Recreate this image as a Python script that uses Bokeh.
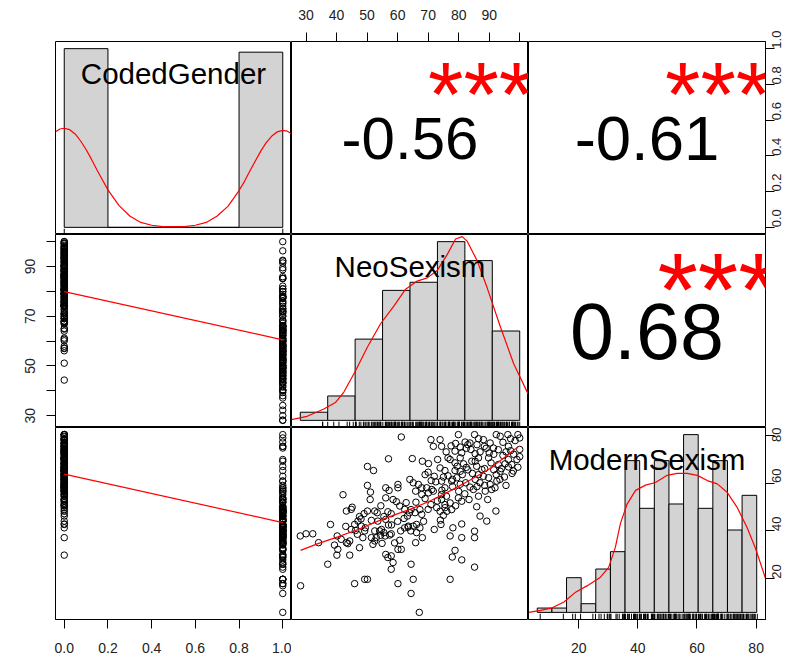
import numpy as np
from bokeh.plotting import figure
from bokeh.models import Range1d, LinearAxis, FixedTicker, NumeralTickFormatter
from bokeh.layouts import gridplot
from bokeh.embed import file_html
from bokeh.resources import INLINE
from bokeh.core.properties import value

FONT = "Liberation Sans"
RED = "#FF0000"

# ---------------- data ----------------
var_names = ["CodedGender", "NeoSexism", "ModernSexism"]

# respondents with CodedGender = 0 : NeoSexism, ModernSexism
g0_neo = [44.3, 51.1, 56.1, 57.2, 57.9, 60.1, 60.7, 61.2, 57.0, 85.2, 70.9, 73.9, 74.4, 83.0, 83.7,
          88.1, 88.4, 90.3, 92.3, 93.6, 96.1, 99.4, 98.5, 93.0, 75.9, 78.8, 81.0, 85.4, 86.5, 85.4,
          64.8, 70.1, 77.2, 78.8, 80.5, 81.6, 84.3, 85.9, 87.6, 89.8, 90.6, 93.0, 95.2, 96.3, 97.4,
          99.1, 99.4, 73.9, 75.5, 78.8, 80.5, 74.4, 74.4, 79.4, 81.2, 82.3, 83.7, 84.8, 85.4, 87.0,
          88.1, 89.8, 90.3, 91.9, 90.8, 92.3, 93.6, 64.0, 65.1, 66.8, 67.9, 69.5, 67.9, 71.7, 74.4,
          75.5, 77.2, 81.0, 83.4, 67.3, 70.9, 73.9, 75.5, 67.3, 68.1, 74.2, 81.0, 87.0, 89.2, 75.0,
          74.5, 76.0, 82.5, 86.0, 90.0, 94.5, 97.0, 100.0, 79.0, 76.5, 83.0, 86.5, 95.0, 97.5, 69.0,
          71.0, 78.0, 80.0, 86.5, 95.5, 96.3, 97.9, 84.0, 87.0, 89.0, 91.5, 95.5, 98.0, 100.0, 97.0,
          94.5, 86.5, 80.5, 77.5, 79.5, 82.5, 84.5, 88.5, 91.5, 94.0, 76.5, 78.0, 80.5, 86.0, 88.5,
          93.5, 70.0, 72.5, 69.0, 73.0, 79.0, 82.0]
g0_mod = [29.9, 56.2, 58.0, 56.9, 47.2, 59.4, 50.4, 79.2, 70.1, 80.2, 78.1, 78.1, 75.3, 76.0, 76.7,
          78.1, 75.3, 76.7, 80.2, 79.5, 80.2, 80.2, 77.7, 73.9, 73.0, 73.3, 72.6, 72.2, 70.5, 69.1,
          70.2, 68.1, 69.8, 68.4, 70.5, 68.0, 69.1, 67.0, 65.6, 70.5, 68.4, 67.7, 68.0, 69.8, 67.7,
          69.8, 66.6, 66.3, 65.2, 65.2, 64.9, 60.8, 55.2, 62.2, 63.5, 60.1, 58.3, 57.3, 61.5, 60.1,
          62.8, 62.2, 59.4, 58.0, 57.3, 63.5, 64.9, 61.5, 60.1, 59.4, 58.0, 58.0, 55.2, 56.6, 53.1,
          51.0, 51.7, 52.4, 53.1, 48.9, 51.0, 48.2, 49.7, 41.3, 37.2, 42.7, 42.9, 46.2, 44.1, 62.5,
          57.0, 54.5, 74.5, 76.0, 72.5, 71.5, 73.5, 74.0, 76.5, 70.5, 65.5, 63.5, 62.5, 64.0, 63.5,
          61.0, 58.5, 56.5, 54.5, 59.0, 66.7, 65.0, 74.0, 73.0, 74.5, 72.0, 73.0, 72.0, 71.0, 78.5,
          77.0, 78.5, 75.0, 75.5, 67.0, 66.5, 64.0, 66.0, 65.5, 66.0, 63.0, 61.5, 59.5, 58.5, 59.0,
          61.5, 64.5, 60.5, 53.5, 52.5, 50.5, 55.5]

# respondents with CodedGender = 1 : NeoSexism, ModernSexism
g1_neo = [50.1, 52.1, 42.1, 50.1, 51.0, 60.1, 56.1, 58.5, 59.6, 45.1, 44.8, 43.2, 49.0, 50.1, 52.5,
          53.3, 56.8, 56.1, 62.3, 62.8, 38.0, 43.0, 45.9, 47.0, 48.1, 44.8, 46.2, 49.4, 51.4, 53.5,
          54.7, 28.1, 30.0, 32.2, 34.1, 40.2, 41.5, 43.2, 44.3, 46.8, 48.6, 49.2, 39.3, 40.4, 40.1,
          43.7, 51.4, 52.5, 54.1, 55.5, 53.0, 54.4, 55.9, 57.4, 57.9, 61.0, 51.9, 52.5, 54.9, 37.1,
          56.1, 56.8, 57.9, 58.5, 57.9, 49.2, 50.1, 45.9, 28.2, 60.1, 60.1, 61.2, 60.7, 62.1, 63.2,
          63.9, 62.3, 63.4, 64.3, 100.0, 96.3, 79.9, 82.1, 91.4, 71.7, 68.1, 73.1, 72.0, 77.7, 92.5,
          75.5, 88.7, 89.5, 70.1, 65.9, 71.2, 79.9, 64.4, 65.7, 67.9, 72.8, 76.1, 77.7, 85.9, 92.2,
          63.5, 65.1, 66.2, 66.2, 65.9, 72.0, 78.1, 77.2, 81.0, 85.2, 85.2, 78.8, 77.9, 81.0, 85.2,
          64.4, 65.1, 64.4, 67.1, 77.2, 75.0, 74.0, 47.5, 54.5, 58.0, 59.0, 47.5, 66.0, 70.0, 68.5,
          60.0, 57.0, 55.5, 48.0]
g1_mod = [66.9, 65.2, 55.1, 59.0, 53.1, 58.0, 53.8, 53.1, 52.2, 49.9, 49.0, 48.3, 47.2, 48.3, 48.3,
          47.6, 48.0, 44.8, 49.0, 51.8, 42.7, 41.9, 42.7, 44.1, 42.0, 40.6, 40.2, 41.3, 44.4, 44.1,
          40.6, 37.9, 38.8, 38.8, 35.1, 37.9, 36.5, 35.1, 35.8, 38.6, 37.2, 40.0, 34.1, 32.3, 29.9,
          34.7, 37.2, 40.0, 40.0, 39.3, 37.2, 38.2, 37.9, 38.3, 38.8, 40.0, 34.4, 35.8, 34.8, 26.1,
          30.2, 28.9, 29.6, 26.8, 24.0, 19.8, 19.8, 18.0, 17.1, 18.0, 32.3, 32.3, 36.1, 45.2, 46.2,
          47.6, 41.3, 41.6, 40.0, 78.8, 75.3, 80.2, 77.1, 74.6, 75.3, 69.1, 69.8, 62.8, 60.8, 60.8,
          58.0, 56.6, 53.1, 55.9, 56.6, 57.3, 53.8, 48.9, 47.6, 46.9, 49.7, 48.2, 48.9, 50.1, 48.3,
          42.0, 42.0, 42.7, 39.3, 35.1, 40.6, 41.3, 37.9, 37.2, 39.9, 37.2, 31.9, 29.1, 27.9, 24.9,
          26.1, 19.8, 13.9, 6.0, 19.8, 46.5, 44.5, 46.0, 50.5, 42.5, 35.0, 33.0, 52.0, 49.0, 44.0,
          44.0, 42.5, 46.0, 45.0]

# histograms (breaks and counts)
gender_breaks = [0.0, 0.2, 0.4, 0.6, 0.8, 1.0]
gender_counts = [152, 0, 0, 0, 149]
neo_breaks = [20, 30, 40, 50, 60, 70, 80, 90, 100]
neo_counts = [3, 9, 30, 48, 51, 66, 59, 33]
mod_breaks = [5, 10, 15, 20, 25, 30, 35, 40, 45, 50, 55, 60, 65, 70, 75, 80]
mod_counts = [1, 1, 8, 2, 10, 14, 35, 24, 35, 25, 41, 24, 35, 19, 27]

# density curves
gender_dens_x = [-0.04, -0.02, 0.0, 0.025, 0.05, 0.075, 0.1, 0.125, 0.15, 0.175, 0.2, 0.25, 0.3,
                 0.35, 0.4, 0.45, 0.5, 0.55, 0.6, 0.65, 0.7, 0.75, 0.8, 0.825, 0.85, 0.875, 0.9,
                 0.925, 0.95, 0.975, 1.0, 1.02, 1.04]
gender_dens_y = [1.35, 1.39, 1.40, 1.38, 1.32, 1.22, 1.10, 0.96, 0.81, 0.67, 0.53, 0.31, 0.16,
                 0.07, 0.03, 0.01, 0.01, 0.01, 0.03, 0.07, 0.16, 0.30, 0.52, 0.65, 0.80, 0.94, 1.08,
                 1.20, 1.29, 1.35, 1.37, 1.36, 1.32]
neo_dens_x = [16.8, 22.5, 28.6, 32.8, 35.9, 40.1, 44.4, 49.2, 54.1, 58.4, 62.6, 66.3, 69.9, 73.6,
              76.6, 79.0, 80.9, 84.5, 88.1, 93.0, 97.8, 103.0]
neo_dens_y = [0.0001, 0.0005, 0.0014, 0.0022, 0.0035, 0.0061, 0.0090, 0.0119, 0.0141, 0.0162,
              0.0172, 0.0176, 0.0185, 0.0205, 0.0224, 0.0227, 0.0221, 0.0197, 0.0164, 0.0115,
              0.0070, 0.0033]
mod_dens_x = [2.1, 6.1, 10.1, 14.1, 18.1, 22.1, 26.6, 29.4, 31.7, 33.4, 35.7, 38.6, 42.0, 45.4,
              49.4, 52.8, 56.2, 59.7, 63.1, 66.5, 69.9, 73.3, 76.7, 79.6, 83.0]
mod_dens_y = [0.0000, 0.0003, 0.0007, 0.0016, 0.0031, 0.0041, 0.0054, 0.0069, 0.0100, 0.0136,
              0.0166, 0.0187, 0.0195, 0.0199, 0.0210, 0.0213, 0.0213, 0.0210, 0.0202, 0.0197,
              0.0184, 0.0161, 0.0130, 0.0098, 0.0052]

# smoothers
smooth_gender_x = [0, 1]
smooth_neo_by_gender = [79.9, 60.5]
smooth_mod_by_gender = [63.7, 43.5]
smooth_neo_x = [28.2, 33.9, 40.4, 47.0, 53.6, 60.1, 64.0, 70.1, 76.6, 83.2, 89.8, 96.3, 99.6]
smooth_mod_y = [31.9, 34.7, 37.5, 40.6, 44.1, 47.2, 49.0, 52.2, 56.3, 60.8, 65.6, 71.9, 75.3]

# correlations (upper panels)
cor_text = {(0, 1): "-0.56", (0, 2): "-0.61", (1, 2): "0.68"}
cor_stars = {(0, 1): "***", (0, 2): "***", (1, 2): "***"}

# axis ticks
gender_ticks = [0.0, 0.2, 0.4, 0.6, 0.8, 1.0]
neo_ticks = [30, 40, 50, 60, 70, 80, 90, 100]
mod_ticks = [20, 40, 60, 80]

# ---------------- styling / layout ----------------
FW = [236, 237, 237]
FH = [193, 193, 192]
BL, BR, BT, BB = 55, 26, 41, 40
COR_SIZE = {(0, 1): 60, (0, 2): 63.5, (1, 2): 79}
STAR_SIZE = {(0, 1): 91, (0, 2): 91, (1, 2): 104}
LABEL_SIZE = 29.5
LABEL_POS = 0.834
TICK_SIZE = "14px"
TICK_COLOR = "#222222"


def ext(lo, hi, f=0.04):
    d = (hi - lo) * f
    return (lo - d, hi + d)


def frac(lim, f):
    return lim[0] + f * (lim[1] - lim[0])


neo_all = g0_neo + g1_neo
mod_all = g0_mod + g1_mod
gen_all = [0] * len(g0_neo) + [1] * len(g1_neo)
columns = [gen_all, neo_all, mod_all]
lims = [ext(0, 1), ext(min(neo_all), max(neo_all)), ext(min(mod_all), max(mod_all))]


def make_fig(r, c):
    p = figure(frame_width=FW[c], frame_height=FH[r],
               x_range=Range1d(*lims[c]), y_range=Range1d(*lims[r]),
               output_backend="svg", toolbar_location=None, tools="",
               x_axis_type=None, y_axis_type=None,
               min_border_left=BL if c == 0 else 0,
               min_border_right=BR if c == 2 else 0,
               min_border_top=BT if r == 0 else 0,
               min_border_bottom=BB if r == 2 else 0)
    p.outline_line_color = "black"
    p.outline_line_width = 1
    p.background_fill_color = "white"
    p.border_fill_color = "white"
    return p


def add_axis(p, side, ticks, overrides=None, fmt=None, standoff=8, orient=None, size=TICK_SIZE):
    ax = LinearAxis(ticker=FixedTicker(ticks=ticks))
    if fmt:
        ax.formatter = NumeralTickFormatter(format=fmt)
    if overrides:
        ax.major_label_overrides = overrides
    ax.major_tick_out = 9
    ax.major_tick_in = 0
    ax.minor_tick_line_color = None
    ax.axis_line_color = "black"
    ax.major_tick_line_color = "black"
    ax.major_label_text_font = FONT
    ax.major_label_text_font_size = size
    ax.major_label_text_color = TICK_COLOR
    ax.major_label_standoff = standoff
    if orient is not None:
        ax.major_label_orientation = orient
    p.add_layout(ax, side)


def hist_panel(p, i, breaks, counts, dens_x, dens_y):
    n = sum(counts)
    widths = np.diff(breaks)
    dens = np.array(counts) / (n * widths)
    hx = ext(breaks[0], breaks[-1])
    hy = ext(0, dens.max())
    p.extra_x_ranges = {"h": Range1d(*hx)}
    p.extra_y_ranges = {"h": Range1d(*hy)}
    p.quad(left=breaks[:-1], right=breaks[1:], bottom=0, top=dens,
           fill_color="#D3D3D3", line_color="black", line_width=1,
           x_range_name="h", y_range_name="h")
    p.line(dens_x, dens_y, line_color=RED, line_width=1.2,
           x_range_name="h", y_range_name="h")
    rv = sorted(set(columns[i]))
    y0 = hy[0]
    y1 = hy[0] + 0.03 * (hy[1] - hy[0])
    p.segment(x0=rv, x1=rv, y0=y0, y1=y1, line_color="black", line_width=1,
              x_range_name="h", y_range_name="h")
    p.text(x=[frac(lims[i], 0.5)], y=[frac(lims[i], LABEL_POS)], text=[var_names[i]],
           text_font=value(FONT), text_font_size=f"{LABEL_SIZE}px", text_color="black",
           text_align="center", text_baseline="middle")


figs = [[make_fig(r, c) for c in range(3)] for r in range(3)]

# diagonal
hist_panel(figs[0][0], 0, gender_breaks, gender_counts, gender_dens_x, gender_dens_y)
hist_panel(figs[1][1], 1, neo_breaks, neo_counts, neo_dens_x, neo_dens_y)
hist_panel(figs[2][2], 2, mod_breaks, mod_counts, mod_dens_x, mod_dens_y)

# upper: correlation text
for (r, c), txt in cor_text.items():
    p = figs[r][c]
    fs = COR_SIZE[(r, c)]
    ss = STAR_SIZE[(r, c)]
    p.text(x=[frac(lims[c], 0.5)], y=[frac(lims[r], 0.5)], text=[txt],
           text_font=value(FONT), text_font_size=f"{fs}px", text_color="black",
           text_align="center", text_baseline="middle")
    p.text(x=[frac(lims[c], 0.8)], y=[frac(lims[r], 0.8)], text=[cor_stars[(r, c)]],
           text_font=value(FONT), text_font_size=f"{ss}px", text_color=RED,
           text_align="center", text_baseline="middle", y_offset=0.16 * ss)

# lower: scatter + smoother
for (r, c), (sx, sy) in {(1, 0): (smooth_gender_x, smooth_neo_by_gender),
                         (2, 0): (smooth_gender_x, smooth_mod_by_gender),
                         (2, 1): (smooth_neo_x, smooth_mod_y)}.items():
    p = figs[r][c]
    p.scatter(columns[c], columns[r], marker="circle", size=6.5, fill_color=None,
              line_color="black", line_width=1)
    p.line(sx, sy, line_color=RED, line_width=1.2)

# outer axes (R pairs style)
add_axis(figs[0][1], "above", neo_ticks, overrides={100: ""}, standoff=13)
add_axis(figs[1][0], "left", neo_ticks, overrides={40: "", 60: "", 80: "", 100: ""},
         standoff=11, orient="vertical")
add_axis(figs[0][2], "right", gender_ticks, fmt="0.0", size="13px", standoff=2, orient=np.pi / 2)
add_axis(figs[2][2], "right", mod_ticks, size="13px", standoff=2, orient=np.pi / 2)
add_axis(figs[2][0], "below", gender_ticks, fmt="0.0", standoff=14)
add_axis(figs[2][2], "below", mod_ticks, standoff=14)

grid = gridplot([row for row in figs], toolbar_location=None)

open("out.html", "w").write(file_html(grid, INLINE))
